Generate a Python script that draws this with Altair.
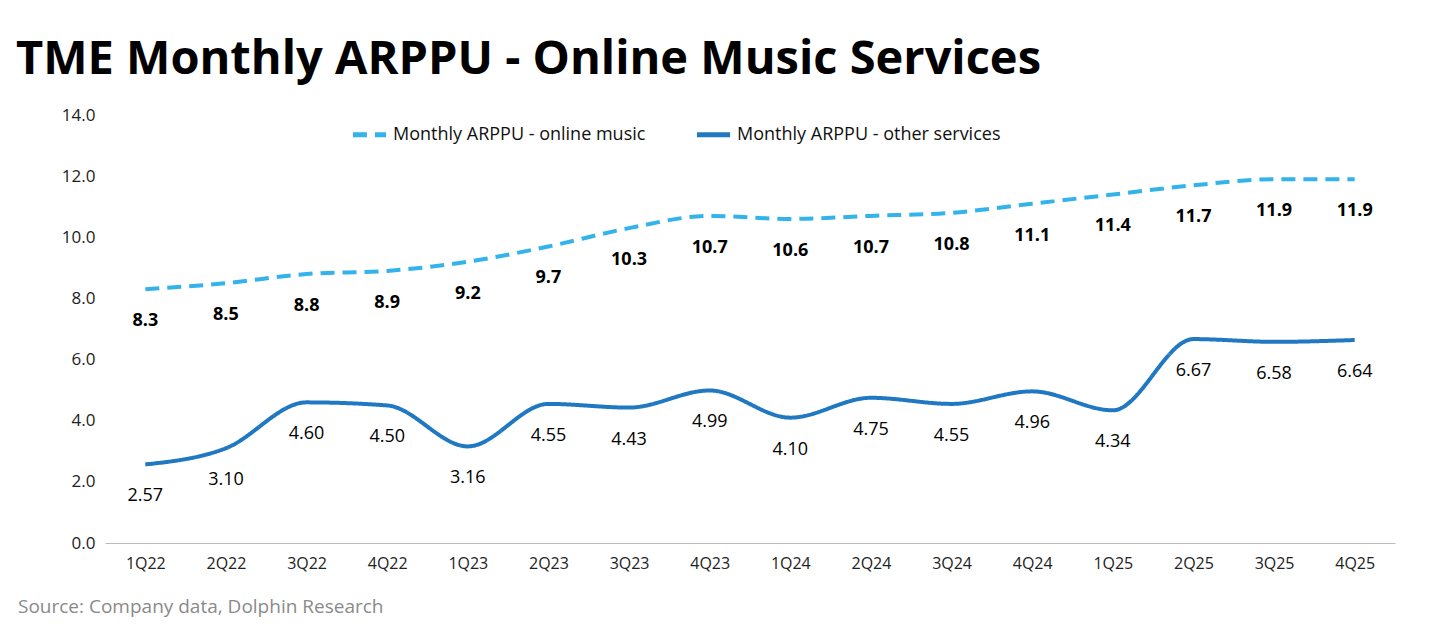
import altair as alt
import pandas as pd

quarters = ["1Q22", "2Q22", "3Q22", "4Q22", "1Q23", "2Q23", "3Q23", "4Q23",
            "1Q24", "2Q24", "3Q24", "4Q24", "1Q25", "2Q25", "3Q25", "4Q25"]
music = [8.3, 8.5, 8.8, 8.9, 9.2, 9.7, 10.3, 10.7, 10.6, 10.7, 10.8, 11.1, 11.4, 11.7, 11.9, 11.9]
other = [2.57, 3.10, 4.60, 4.50, 3.16, 4.55, 4.43, 4.99, 4.10, 4.75, 4.55, 4.96, 4.34, 6.67, 6.58, 6.64]

s1 = "Monthly ARPPU - online music"
s2 = "Monthly ARPPU - other services"

df = pd.concat([
    pd.DataFrame({"q": quarters, "v": music, "s": s1, "lab": [f"{x:.1f}" for x in music]}),
    pd.DataFrame({"q": quarters, "v": other, "s": s2, "lab": [f"{x:.2f}" for x in other]}),
])

x = alt.X("q:N", sort=quarters, title=None,
          scale=alt.Scale(type="point", padding=0.5),
          axis=alt.Axis(labelAngle=0, labelFontSize=16, labelColor="#222", labelPadding=12,
                        domainColor="#bbb", ticks=False, grid=False))
y = alt.Y("v:Q", title=None, scale=alt.Scale(domain=[0, 14]),
          axis=alt.Axis(values=[0, 2, 4, 6, 8, 10, 12, 14], format=".1f", labelFontSize=17,
                        labelColor="#222", grid=False, domain=False, ticks=False, labelPadding=10))

base = alt.Chart(df).encode(x=x, y=y)

lines = base.mark_line(interpolate="monotone", strokeWidth=4).encode(
    color=alt.Color("s:N", sort=[s1, s2],
                    scale=alt.Scale(domain=[s1, s2], range=["#33b3ea", "#1f78c1"]),
                    legend=alt.Legend(title=None, orient="none", legendX=245, legendY=0,
                                      direction="horizontal", labelFontSize=18, symbolType="stroke",
                                      symbolSize=1100, symbolStrokeWidth=5, columnPadding=40,
                                      labelLimit=0, labelColor="#111")),
    strokeDash=alt.StrokeDash("s:N", sort=[s1, s2],
                              scale=alt.Scale(domain=[s1, s2], range=[[14, 8], [1, 0]]),
                              legend=None),
)

lab1 = alt.Chart(df[df.s == s1]).mark_text(dy=32, fontSize=18, fontWeight="bold", color="#000").encode(
    x=x, y=y, text="lab:N")
lab2 = alt.Chart(df[df.s == s2]).mark_text(dy=32, fontSize=18, color="#000").encode(
    x=x, y=y, text="lab:N")

source = alt.Chart(pd.DataFrame({"t": ["Source: Company data, Dolphin Research"]})).mark_text(
    align="left", fontSize=19, color="#8a8a8a").encode(
    x=alt.value(-87), y=alt.value(492), text="t:N")

chart = (lines + lab1 + lab2 + source).properties(
    width=1290, height=428,
    autosize=alt.AutoSizeParams(type="none"),
    title=alt.TitleParams("TME Monthly ARPPU - Online Music Services", anchor="start",
                          fontSize=47, fontWeight="bold", font="Open Sans", color="#000",
                          offset=22, dx=-2),
    padding={"left": 97, "top": 107, "right": 30, "bottom": 80},
).configure(font="Open Sans").configure_view(stroke=None)

chart.save("out.html", embed_options={"renderer": "svg", "actions": False})
